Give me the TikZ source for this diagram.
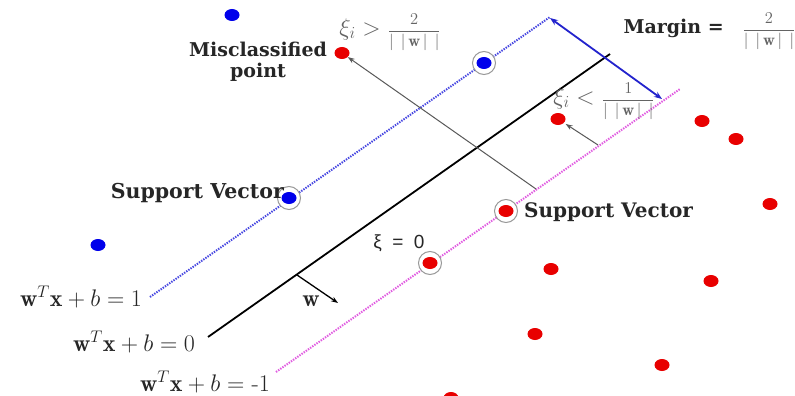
\RequirePackage{fix-cm}
\documentclass[tikz,border=0pt]{standalone}
\usepackage{fontspec}
\usepackage{amsmath}
\newfontfamily\dvs{DejaVu Serif}
\newfontfamily\arl{Liberation Sans}
\usetikzlibrary{arrows.meta,shapes.geometric}
\definecolor{dotred}{RGB}{232,0,0}
\definecolor{dotblue}{RGB}{0,0,235}
\definecolor{plusline}{RGB}{70,70,225}
\definecolor{minusline}{RGB}{225,90,225}
\definecolor{marginblue}{RGB}{35,35,205}
\definecolor{txtgray}{RGB}{100,100,100}
\tikzset{
  reddot/.style={ellipse, fill=dotred, minimum width=15pt, minimum height=12pt, inner sep=0pt},
  bluedot/.style={ellipse, fill=dotblue, minimum width=15pt, minimum height=12pt, inner sep=0pt},
  ring/.style={circle, draw=gray!80, line width=1pt, minimum size=23pt, inner sep=0pt, fill=white},
  plane/.style={line width=2pt, dash pattern=on 1.4pt off 1.2pt},
  hyper/.style={line width=1.8pt, black},
  graya/.style={line width=1pt, draw=black!65, -{Stealth[length=7pt,width=5pt]}},
  lbl/.style={font=\dvs\bfseries\fontsize{19}{21}\selectfont, text=black!85, inner sep=0pt},
  mth/.style={text=txtgray, inner sep=0pt, font=\fontsize{24}{26}\selectfont},
  eqn/.style={text=black!85, inner sep=0pt, font=\fontsize{24}{26}\selectfont}
}
\newcommand{\nrmw}{|\mkern8mu|\mkern3mu\mathbf{w}\mkern3mu|\mkern8mu|}
\newcommand{\invw}[1]{{\fontsize{16.5}{18}\selectfont$\dfrac{#1}{\nrmw}$}}
\begin{document}
\begin{tikzpicture}[x=1pt,y=-1pt]
\fill[white] (0,0) rectangle (795,396);
\useasboundingbox (0,0) rectangle (795,396);
% hyperplanes
\coordinate (pA) at (150,297); \coordinate (pB) at (550,17);
\coordinate (hA) at (208,337); \coordinate (hB) at (610,54);
\coordinate (mA) at (276,372); \coordinate (mB) at (680,89);
\draw[plane, plusline] (pA) -- (pB);
\draw[hyper] (hA) -- (hB);
\draw[plane, minusline] (mA) -- (mB);
% margin arrow
\coordinate (g1) at (550,18); \coordinate (g2) at (662,99);
\draw[marginblue, line width=1.8pt, {Stealth[length=8pt,width=6pt]}-{Stealth[length=8pt,width=6pt]}] (g1) -- (g2);
% support vector rings
\node[ring] (sv1) at (289,198) {};
\node[ring] (sv2) at (484,63) {};
\node[ring] (sv3) at (506,211) {};
\node[ring] (sv4) at (430,263) {};
\node[bluedot] at (sv1) {};
\node[bluedot] at (sv2) {};
\node[reddot] at (sv3) {};
\node[reddot] at (sv4) {};
% other points
\node[bluedot] (b1) at (232,15) {};
\node[bluedot] (b2) at (98,245) {};
\node[reddot] (mis) at (342,53) {};
\node[reddot] (rin) at (558,119) {};
\node[reddot] (r1) at (702,121) {};
\node[reddot] (r2) at (736,139) {};
\node[reddot] (r3) at (770,204) {};
\node[reddot] (r4) at (551,269) {};
\node[reddot] (r5) at (711,281) {};
\node[reddot] (r6) at (535,334) {};
\node[reddot] (r7) at (662,365) {};
\node[reddot] (r8) at (451,398) {};
% slack arrows
\coordinate (s1) at (536,189);
\draw[graya] (s1) -- (mis);
\coordinate (s2) at (598,145);
\draw[graya, shorten >=2pt] (s2) -- (rin);
% w arrow
\coordinate (w1) at (297,275); \coordinate (w2) at (338,303);
\draw[line width=1.3pt, -{Stealth[length=7pt,width=5pt]}] (w1) -- (w2);
% labels
\node[lbl, align=center] (tmis) at (258,62) {Misclassified\\point};
\node[mth] (txi1) at (390,32) {$\xi_i >$ \invw{2}};
\node[lbl, anchor=east] (tmar) at (724,28) {Margin =};
\node[mth] (tfr) at (769,31) {\invw{2}};
\node[mth] (txi2) at (604,101) {$\xi_i <$ \invw{1}};
\node[lbl, anchor=east, font=\dvs\bfseries\fontsize{20.5}{22}\selectfont] (tsv1) at (284,193) {Support Vector};
\node[lbl, anchor=west, font=\dvs\bfseries\fontsize{20}{22}\selectfont] (tsv2) at (524,212) {Support Vector};
\node[font=\arl\fontsize{19}{21}\selectfont, text=black!85, inner sep=0pt] (txi0) at (399,243) {ξ\hspace{0.55em}=\hspace{0.55em}0};
\node[eqn] (e1) at (81,297) {$\mathbf{w}^T\mathbf{x}+b=1$};
\node[eqn] (e0) at (134,342) {$\mathbf{w}^T\mathbf{x}+b=0$};
\node[eqn] (em) at (205,382) {$\mathbf{w}^T\mathbf{x}+b=$ -1};
\node[eqn] (tw) at (311,301) {$\mathbf{w}$};
\end{tikzpicture}
\end{document}
